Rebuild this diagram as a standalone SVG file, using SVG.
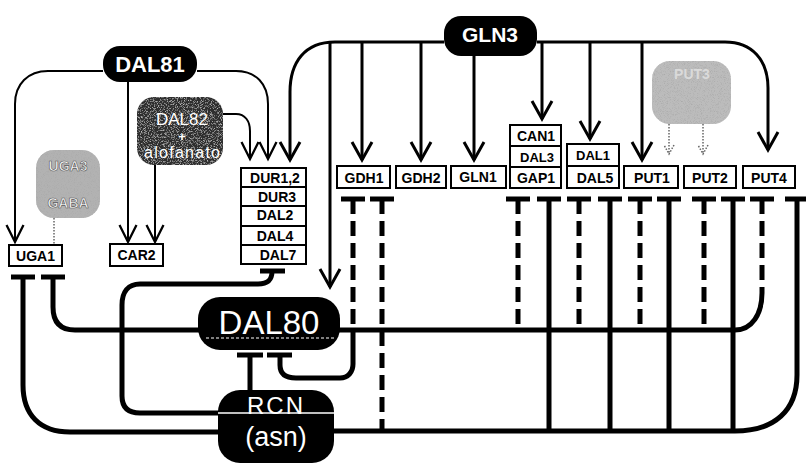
<svg xmlns="http://www.w3.org/2000/svg" width="806" height="465" viewBox="0 0 806 465">
<defs>
<style>
.thin{fill:none;stroke:#000;stroke-width:2}
.mid{fill:none;stroke:#000;stroke-width:3}
.inh{fill:none;stroke:#000;stroke-width:5}
.dash{stroke-dasharray:15 7}
.tbar{stroke:#000;stroke-width:5}
.dot{fill:none;stroke:#666;stroke-width:1.5;stroke-dasharray:1.5 1.5}
.box{fill:#fff;stroke:#000;stroke-width:2}
.bt{font-family:"Liberation Sans",Arial,sans-serif;font-weight:bold;font-size:14px;text-anchor:middle;fill:#000}
.pill{fill:#000}
.pt{fill:#fff;font-family:"Liberation Sans",Arial,sans-serif;text-anchor:middle}
.blobt{font-family:"Liberation Sans",Arial,sans-serif;font-weight:bold;font-size:14px;text-anchor:middle;fill:#fafafa;stroke:#555;stroke-width:0.6}
</style>
<marker id="ah" viewBox="-20 -12 24 24" refX="0" refY="0" markerWidth="24" markerHeight="24" markerUnits="userSpaceOnUse" orient="auto">
<path d="M-17,-8.5 L0,0 L-17,8.5" fill="none" stroke="#000" stroke-width="2.3"/>
</marker>
<marker id="ahb" viewBox="-22 -13 26 26" refX="0" refY="0" markerWidth="26" markerHeight="26" markerUnits="userSpaceOnUse" orient="auto">
<path d="M-18,-10 L0,0 L-18,10" fill="none" stroke="#000" stroke-width="3"/>
</marker>
<marker id="ahd" viewBox="-12 -8 14 16" refX="0" refY="0" markerWidth="14" markerHeight="16" markerUnits="userSpaceOnUse" orient="auto">
<path d="M-9,-5 L0,0 L-9,5" fill="none" stroke="#666" stroke-width="1.5" stroke-dasharray="1.5 1.5"/>
</marker>
<filter id="grain" x="0" y="0" width="100%" height="100%">
<feTurbulence type="fractalNoise" baseFrequency="1.3" numOctaves="1" seed="4" result="n"/>
<feColorMatrix in="n" type="matrix" values="0 0 0 0 0.4  0 0 0 0 0.4  0 0 0 0 0.4  3 0 0 0 -1.45" result="d"/>
<feComposite in="d" in2="SourceGraphic" operator="in" result="d2"/>
<feMerge><feMergeNode in="SourceGraphic"/><feMergeNode in="d2"/></feMerge>
</filter>
<filter id="grainl" x="0" y="0" width="100%" height="100%">
<feTurbulence type="fractalNoise" baseFrequency="1.3" numOctaves="1" seed="7" result="n"/>
<feColorMatrix in="n" type="matrix" values="0 0 0 0 0.6  0 0 0 0 0.6  0 0 0 0 0.6  3 0 0 0 -1.5" result="d"/>
<feComposite in="d" in2="SourceGraphic" operator="in" result="d2"/>
<feMerge><feMergeNode in="SourceGraphic"/><feMergeNode in="d2"/></feMerge>
</filter>
</defs>
<rect width="806" height="465" fill="#fff"/>

<g id="connectors">
<path class="thin" d="M103,71 H48 C28,71 15,84 15,104 V242" marker-end="url(#ah)"/>
<path class="thin" d="M128,82 V242" marker-end="url(#ah)"/>
<path class="thin" d="M197,71 H236 C256,71 268,84 268,104 V159" marker-end="url(#ah)"/>
<path class="thin" d="M223,114 H236 C245,114 250,121 250,131 V159" marker-end="url(#ah)"/>
<path class="thin" d="M155,165 V242" marker-end="url(#ah)"/>
<path class="mid" d="M444,42 H335 C305,42 290,62 290,92 V160" marker-end="url(#ahb)"/>
<path class="mid" d="M537,42 H725 C752,42 768,60 768,88 V150" marker-end="url(#ahb)"/>
<path class="mid" d="M330,42 V287" marker-end="url(#ahb)"/>
<path class="mid" d="M362,42 V160" marker-end="url(#ahb)"/>
<path class="mid" d="M421,42 V160" marker-end="url(#ahb)"/>
<path class="mid" d="M474,50 V160" marker-end="url(#ahb)"/>
<path class="mid" d="M542,42 V119" marker-end="url(#ahb)"/>
<path class="mid" d="M590,42 V139" marker-end="url(#ahb)"/>
<path class="mid" d="M642,42 V160" marker-end="url(#ahb)"/>
<path class="dot" d="M54,218 V244"/>
<path class="dot" d="M669,124 V154" marker-end="url(#ahd)"/>
<path class="dot" d="M703,124 V154" marker-end="url(#ahd)"/>
<g class="tbar">
<line x1="341" y1="199" x2="365" y2="199"/>
<line x1="370" y1="199" x2="394" y2="199"/>
<line x1="506" y1="199" x2="530" y2="199"/>
<line x1="537" y1="199" x2="561" y2="199"/>
<line x1="567" y1="199" x2="591" y2="199"/>
<line x1="598" y1="199" x2="622" y2="199"/>
<line x1="628" y1="199" x2="652" y2="199"/>
<line x1="657" y1="199" x2="681" y2="199"/>
<line x1="692" y1="199" x2="716" y2="199"/>
<line x1="721" y1="199" x2="745" y2="199"/>
<line x1="750" y1="199" x2="774" y2="199"/>
<line x1="785" y1="199" x2="806" y2="199"/>
<line x1="11" y1="277" x2="35" y2="277"/>
<line x1="41" y1="277" x2="65" y2="277"/>
<line x1="260" y1="271" x2="285" y2="271"/>
<line x1="237" y1="355" x2="263" y2="355"/>
<line x1="267" y1="355" x2="292" y2="355"/>
</g>
<path class="inh dash" d="M353,199 V327"/>
<path class="inh dash" d="M382,199 V429"/>
<path class="inh dash" d="M518,199 V328"/>
<path class="inh dash" d="M579,199 V328"/>
<path class="inh dash" d="M640,199 V328"/>
<path class="inh dash" d="M704,199 V328"/>
<path class="inh dash" d="M762,199 V293"/>
<path class="inh" d="M549,199 V431"/>
<path class="inh" d="M610,199 V431"/>
<path class="inh" d="M669,199 V431"/>
<path class="inh" d="M733,199 V431"/>
<path class="inh" d="M330,330 H735 C752,330 762,314 762,293"/>
<path class="inh" d="M330,431 H735 C775,431 797,410 797,375 V199"/>
<path class="inh" d="M23,277 V385 C23,415 40,432 70,432 H222"/>
<path class="inh" d="M53,277 V307 C53,322 60,330 75,330 H202"/>
<path class="inh" d="M272,271 C272,280 268,284 258,284 H140 C128,284 122,292 122,305 V396 C122,407 128,413 140,413 H222"/>
<path class="inh" d="M250,355 V393"/>
<path class="inh" d="M280,355 V365 C280,374 286,378 296,378 H340 C348,378 353,372 353,364 V330"/>
</g>

<g id="UGA3">
<rect x="36" y="150" width="64" height="68" rx="18" fill="#b2b2b2" filter="url(#grain)"/>
<text class="blobt" x="68" y="171">UGA3</text>
<text class="blobt" x="68" y="208">GABA</text>
</g>
<g id="PUT3">
<rect x="652" y="61" width="79" height="63" rx="18" fill="#bcbcbc" filter="url(#grain)"/>
<text class="blobt" x="692" y="79" style="fill:#dadada;stroke:none">PUT3</text>
</g>

<g id="DAL81">
<rect class="pill" x="103" y="46" width="94" height="36" rx="17"/>
<text class="pt" x="150" y="72" style="font-size:22px;font-weight:bold">DAL81</text>
</g>
<g id="GLN3">
<rect class="pill" x="444" y="16" width="93" height="40" rx="17"/>
<text class="pt" x="490" y="42" style="font-size:21px;font-weight:bold">GLN3</text>
</g>
<g id="DAL82">
<rect x="137" y="97" width="86" height="68" rx="17" fill="#2e2e2e" filter="url(#grainl)"/>
<text class="pt" x="182" y="125" style="font-size:17px">DAL82</text>
<text class="pt" x="182" y="141" style="font-size:13px;font-weight:bold">+</text>
<text class="pt" x="182" y="158" style="font-size:16px" textLength="76">alofanato</text>
</g>

<g id="UGA1">
<rect class="box" x="9" y="245" width="53" height="21"/>
<text class="bt" x="35.5" y="261">UGA1</text>
</g>
<g id="CAR2">
<rect class="box" x="110" y="244" width="53" height="22"/>
<text class="bt" x="136.5" y="260">CAR2</text>
</g>
<g id="DUR">
<rect class="box" x="241" y="168" width="65" height="96"/>
<line x1="241" y1="187" x2="306" y2="187" stroke="#000" stroke-width="2"/>
<line x1="241" y1="206" x2="306" y2="206" stroke="#000" stroke-width="2"/>
<line x1="241" y1="226" x2="306" y2="226" stroke="#000" stroke-width="2"/>
<line x1="241" y1="245" x2="306" y2="245" stroke="#000" stroke-width="2"/>
<text class="bt" x="275" y="183">DUR1,2</text>
<text class="bt" x="277" y="202">DUR3</text>
<text class="bt" x="275" y="220">DAL2</text>
<text class="bt" x="275" y="241">DAL4</text>
<text class="bt" x="278" y="260">DAL7</text>
</g>
<g id="GDH1">
<rect class="box" x="337" y="166" width="53" height="22"/>
<text class="bt" x="364" y="183">GDH1</text>
</g>
<g id="GDH2">
<rect class="box" x="396" y="166" width="50" height="22"/>
<text class="bt" x="421" y="183">GDH2</text>
</g>
<g id="GLN1">
<rect class="box" x="451" y="166" width="55" height="22"/>
<text class="bt" x="478" y="182">GLN1</text>
</g>
<g id="CAN1">
<rect class="box" x="510" y="125" width="51" height="63"/>
<line x1="510" y1="146" x2="561" y2="146" stroke="#000" stroke-width="2"/>
<line x1="510" y1="167" x2="561" y2="167" stroke="#000" stroke-width="2"/>
<text class="bt" x="536" y="141">CAN1</text>
<text class="bt" x="537" y="162" style="font-size:13px">DAL3</text>
<text class="bt" x="536" y="183">GAP1</text>
</g>
<g id="DAL1">
<rect class="box" x="567" y="144" width="52" height="44"/>
<line x1="567" y1="166" x2="619" y2="166" stroke="#000" stroke-width="2"/>
<text class="bt" x="593" y="160" style="font-size:13px">DAL1</text>
<text class="bt" x="595" y="183">DAL5</text>
</g>
<g id="PUT1">
<rect class="box" x="624" y="166" width="54" height="22"/>
<text class="bt" x="652" y="183">PUT1</text>
</g>
<g id="PUT2">
<rect class="box" x="684" y="166" width="52" height="22"/>
<text class="bt" x="710" y="183">PUT2</text>
</g>
<g id="PUT4">
<rect class="box" x="743" y="166" width="52" height="22"/>
<text class="bt" x="769" y="183">PUT4</text>
</g>

<g id="DAL80">
<rect class="pill" x="198" y="297" width="142" height="53" rx="22"/>
<text class="pt" x="269" y="334" style="font-size:33px">DAL80</text>
<line x1="206" y1="338" x2="334" y2="338" stroke="#fff" stroke-width="1" stroke-dasharray="3 2"/>
</g>
<g id="RCN">
<rect class="pill" x="218" y="390" width="116" height="73" rx="22"/>
<line x1="218" y1="413" x2="334" y2="413" stroke="#fff" stroke-width="1.5"/>
<text class="pt" x="276" y="414" style="font-size:24px;letter-spacing:2px">RCN</text>
<text class="pt" x="276" y="446" style="font-size:27px">(asn)</text>
</g>
</svg>
